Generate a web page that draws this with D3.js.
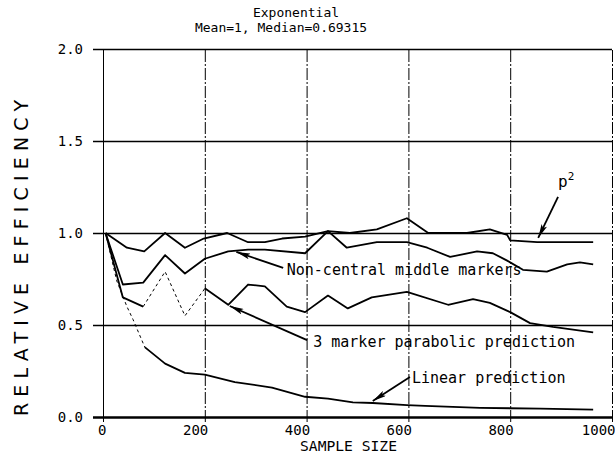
<!DOCTYPE html>
<html><head><meta charset="utf-8">
<script src="https://cdn.jsdelivr.net/npm/d3@7"></script>
<style>
body{margin:0;background:#fff;}
svg{display:block;}
text{font-family:"DejaVu Sans Mono",monospace;fill:#000;}
</style></head>
<body><svg id="c" width="615" height="454"></svg>
<script>
// ---- data ----
const xTicks = [0, 200, 400, 600, 800, 1000];
const yTicks = [0.0, 0.5, 1.0, 1.5, 2.0];
const xTickLabels = ["0", "200", "400", "600", "800", "1000"];
const yTickLabels = ["0.0", "0.5", "1.0", "1.5", "2.0"];

const p2N   = [5, 47, 81, 122, 161, 198, 244, 285, 318, 352, 397, 442, 485, 538, 597, 639, 715, 760, 794, 800, 853, 917, 963];
const p2Eff = [1.00, 0.92, 0.90, 1.00, 0.92, 0.97, 1.00, 0.95, 0.95, 0.97, 0.98, 1.01, 1.00, 1.02, 1.08, 1.00, 1.00, 1.02, 0.99, 0.96, 0.95, 0.95, 0.95];

const ncN   = [5, 39, 79, 122, 161, 200, 246, 285, 318, 397, 442, 479, 538, 597, 637, 682, 735, 766, 794, 825, 872, 912, 937, 963];
const ncEff = [1.00, 0.72, 0.73, 0.88, 0.78, 0.86, 0.90, 0.91, 0.91, 0.89, 1.01, 0.92, 0.95, 0.95, 0.92, 0.87, 0.90, 0.89, 0.85, 0.80, 0.79, 0.83, 0.84, 0.83];

const pp3N   = [5, 39, 79, 122, 161, 198, 200, 246, 285, 318, 361, 397, 442, 481, 528, 597, 678, 727, 760, 800, 839, 884, 963];
const pp3Eff = [1.00, 0.65, 0.60, 0.79, 0.55, 0.69, 0.70, 0.61, 0.72, 0.71, 0.60, 0.57, 0.66, 0.59, 0.65, 0.68, 0.61, 0.64, 0.62, 0.57, 0.51, 0.49, 0.46];
const pp3Dotted = [79, 200];

const linN   = [5, 27, 47, 59, 82, 122, 161, 200, 259, 332, 397, 442, 491, 530, 597, 633, 741, 859, 963];
const linEff = [1.00, 0.74, 0.60, 0.53, 0.38, 0.29, 0.24, 0.23, 0.19, 0.16, 0.11, 0.10, 0.08, 0.076, 0.065, 0.06, 0.05, 0.045, 0.04];
const linDotted = [5, 82];

// annotations: [label, text n, text eff, arrow tail n, eff, arrow tip n, eff]
const annotations = [
  ["Non-central middle markers", 361, 0.772, 354, 0.81, 262, 0.897],
  ["3 marker parabolic prediction", 413, 0.380, 401, 0.418, 249, 0.603],
  ["Linear prediction", 607, 0.185, 603, 0.217, 530, 0.087]
];
const p2Label = {n: 894, eff: 1.25, tailN: 894, tailEff: 1.196, tipN: 855, tipEff: 0.973};

// ---- drawing ----
const svg = d3.select("#c");
const x = d3.scaleLinear().domain([0, 1000]).range([103, 612]);
const y = d3.scaleLinear().domain([0, 2]).range([417, 49]);

svg.append("defs").append("marker")
  .attr("id", "ah").attr("viewBox", "0 0 14 6").attr("refX", 14).attr("refY", 3)
  .attr("markerWidth", 14).attr("markerHeight", 6).attr("markerUnits", "userSpaceOnUse")
  .attr("orient", "auto")
  .append("path").attr("d", "M0,0 L14,3 L0,6 L3,3 Z").attr("fill", "#000");

// vertical grid (x axis)
const gx = svg.append("g").attr("transform", "translate(0,417)")
  .call(d3.axisBottom(x).tickValues(xTicks).tickSizeInner(-(417 - 49)).tickSizeOuter(0).tickPadding(0)
        .tickFormat((d, i) => xTickLabels[i]));
gx.select(".domain").remove();
gx.selectAll(".tick line").attr("stroke", "#000").attr("stroke-width", 1)
  .attr("y2", -(417 - 49)).attr("y1", 5)
  .attr("stroke-dasharray", (d, i) => (i === 0 ? null : "12,2,2,2"));
gx.selectAll(".tick text").attr("text-anchor", "end").attr("dx", 3).attr("dy", 0).attr("y", 18)
  .style("font-size", "14px").style("font-family", "DejaVu Sans Mono");

// horizontal grid (y axis)
const gy = svg.append("g").attr("transform", "translate(103,0)")
  .call(d3.axisLeft(y).tickValues(yTicks).tickSizeInner(-(612 - 103)).tickSizeOuter(0).tickPadding(0)
        .tickFormat((d, i) => yTickLabels[i]));
gy.select(".domain").remove();
gy.selectAll(".tick line").attr("stroke", "#000")
  .attr("stroke-width", (d) => (d === 0 ? 2.5 : 1.5)).attr("x1", -10);
gy.selectAll(".tick text").attr("text-anchor", "end").attr("x", -20).attr("dy", "0.32em")
  .style("font-size", "14px").style("font-family", "DejaVu Sans Mono");

const line = d3.line().x(d => x(d[0])).y(d => y(d[1]));
function zipS(ns, es) { return ns.map((n, i) => [n, es[i]]); }
function drawSeries(ns, es, dotted) {
  const pts = zipS(ns, es);
  if (!dotted) {
    svg.append("path").attr("d", line(pts)).attr("fill", "none").attr("stroke", "#000").attr("stroke-width", 1.8).attr("stroke-linejoin", "round");
    return;
  }
  const before = pts.filter(p => p[0] <= dotted[0]);
  const mid = pts.filter(p => p[0] >= dotted[0] && p[0] <= dotted[1]);
  const after = pts.filter(p => p[0] >= dotted[1]);
  [before, after].forEach(seg => {
    if (seg.length > 1) svg.append("path").attr("d", line(seg)).attr("fill", "none").attr("stroke", "#000").attr("stroke-width", 1.8).attr("stroke-linejoin", "round");
  });
  svg.append("path").attr("d", line(mid)).attr("fill", "none").attr("stroke", "#000").attr("stroke-width", 1)
    .attr("stroke-dasharray", "3,3");
}
drawSeries(p2N, p2Eff, null);
drawSeries(ncN, ncEff, null);
drawSeries(pp3N, pp3Eff, pp3Dotted);
drawSeries(linN, linEff, linDotted);

// annotations
annotations.forEach(a => {
  svg.append("line").attr("x1", x(a[3])).attr("y1", y(a[4])).attr("x2", x(a[5])).attr("y2", y(a[6]))
    .attr("stroke", "#000").attr("stroke-width", 1.8).attr("marker-end", "url(#ah)");
  svg.append("text").attr("x", x(a[1])).attr("y", y(a[2])).style("font-size", "15px").text(a[0]);
});
svg.append("line").attr("x1", x(p2Label.tailN)).attr("y1", y(p2Label.tailEff)).attr("x2", x(p2Label.tipN)).attr("y2", y(p2Label.tipEff))
  .attr("stroke", "#000").attr("stroke-width", 1.8).attr("marker-end", "url(#ah)");
const pt = svg.append("text").attr("x", x(p2Label.n)).attr("y", y(p2Label.eff)).style("font-size", "16px");
pt.append("tspan").text("p");
pt.append("tspan").attr("dy", -7).style("font-size", "11px").text("2");

// titles
svg.append("text").attr("x", 296).attr("y", 17).attr("text-anchor", "middle").style("font-size", "13px").text("Exponential");
svg.append("text").attr("x", 281).attr("y", 32).attr("text-anchor", "middle").style("font-size", "13px").text("Mean=1, Median=0.69315");
svg.append("text").attr("x", 300).attr("y", 451).style("font-size", "14px")
  .attr("textLength", 97).attr("lengthAdjust", "spacingAndGlyphs").text("SAMPLE SIZE");
svg.append("text").attr("transform", "translate(28,258) rotate(-90)").attr("text-anchor", "middle")
  .style("font-family", "DejaVu Sans").style("font-size", "19px")
  .attr("textLength", 316).attr("lengthAdjust", "spacing").text("RELATIVE EFFICIENCY");
</script></body></html>
